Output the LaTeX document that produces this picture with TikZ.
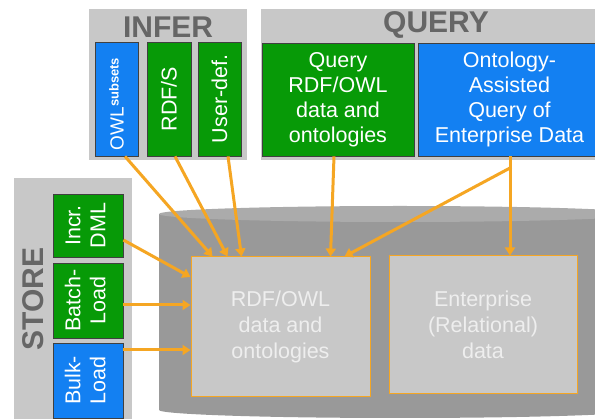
\documentclass[tikz,border=0pt]{standalone}
\usepackage{fontspec}
\setmainfont{Liberation Sans}
\usepackage{graphicx}
\usetikzlibrary{arrows.meta}
\definecolor{panel}{HTML}{C8C8C8}
\definecolor{ttl}{HTML}{666666}
\definecolor{gfill}{HTML}{079A07}
\definecolor{bfill}{HTML}{1380F2}
\definecolor{orng}{HTML}{F5A623}
\definecolor{cylbody}{HTML}{999999}
\definecolor{cyltop}{HTML}{ABABAB}
\definecolor{inner}{HTML}{C8C8C8}
\definecolor{innertxt}{HTML}{EEEEEE}
\begin{document}
\begin{tikzpicture}[x=1pt,y=-1pt,
  title/.style={text=ttl, font=\fontsize{30}{31}\selectfont\bfseries, inner sep=0},
  colbox/.style={draw=black!75, line width=0.8pt, inner sep=0, text=white,
    font=\fontsize{21.5}{25}\selectfont, align=center},
  gbox/.style={colbox, fill=gfill},
  bbox/.style={colbox, fill=bfill},
  databox/.style={fill=inner, draw=orng, line width=1pt, inner sep=0, text=innertxt,
    font=\fontsize{21.5}{26}\selectfont, align=center},
  arr/.style={draw=orng, line width=3pt, -{Triangle[length=8pt,width=10pt]}},
]
\useasboundingbox (0,0) rectangle (595,419);
\clip (0,0) rectangle (595,419);
\fill[white] (0,0) rectangle (595,419);

% panels
\fill[panel] (89,9) rectangle (247,160);
\fill[panel] (261,9) rectangle (600,160);
\fill[panel] (14,178) rectangle (132,425);
\node[title] (infert) at (168,27) {INFER};
\node[title] (queryt) at (436,25) {QUERY};
\node[title, rotate=90] (storet) at (33,299) {STORE};

% cylinder
\fill[cylbody] (159,214) rectangle (641,410);
\fill[cylbody] (400,410) ellipse [x radius=241pt, y radius=8pt];
\fill[cyltop] (400,214) ellipse [x radius=241pt, y radius=8pt];

% infer boxes
\node[bbox, minimum width=43pt, minimum height=114pt] (owl) at (116.5,99)
  {\rotatebox{90}{\fontsize{19}{19}\selectfont OWL\raisebox{5pt}{\fontsize{13}{13}\selectfont\bfseries subsets}\hspace{10pt}}};
\node[gbox, minimum width=44pt, minimum height=114pt] (rdfs) at (169,99)
  {\rotatebox{90}{RDF/S}};
\node[gbox, minimum width=43pt, minimum height=114pt] (userdef) at (219.5,99)
  {\rotatebox{90}{User-def.}};

% query boxes
\node[gbox, minimum width=152pt, minimum height=113pt] (qg) at (338,99.5)
  {Query\\RDF/OWL\\data and\\ontologies};
\node[bbox, minimum width=183pt, minimum height=113pt] (qb) at (509.5,99.5)
  {Ontology-\\Assisted\\Query of\\Enterprise Data};

% store boxes
\node[gbox, minimum width=70pt, minimum height=63pt] (incr) at (88,225.5)
  {\rotatebox{90}{\begin{tabular}{@{}c@{}}Incr.\\DML\end{tabular}}};
\node[gbox, minimum width=70pt, minimum height=75pt] (batch) at (88,300.5)
  {\rotatebox{90}{\begin{tabular}{@{}c@{}}Batch-\\Load\end{tabular}}};
\node[bbox, minimum width=70pt, minimum height=75pt] (bulk) at (88,380.5)
  {\rotatebox{90}{\begin{tabular}{@{}c@{}}Bulk-\\Load\end{tabular}}};

% data boxes
\node[databox, minimum width=179pt, minimum height=140pt] (rdf) at (280.5,327)
  {RDF/OWL\\data and\\ontologies};
\node[databox, minimum width=188pt, minimum height=138pt] (ent) at (483,325)
  {Enterprise\\(Relational)\\data};

% connectors
\draw[arr] ([xshift=8.5pt]owl.south) -- ([xshift=22pt]rdf.north west);
\draw[arr] ([xshift=6pt]rdfs.south) -- ([xshift=37pt]rdf.north west);
\draw[arr] ([xshift=8.5pt]userdef.south) -- ([xshift=51pt]rdf.north west);
\draw[arr] ([xshift=-4pt]qg.south) -- ([xshift=140pt]rdf.north west);
\coordinate (br) at (510,168);
\draw[arr] ([xshift=0.5pt]qb.south) -- ([xshift=27pt]ent.north);
\draw[arr, shorten <=-1.5pt] (br) -- ([xshift=154pt]rdf.north west);
\draw[arr] ([yshift=-14.5pt]incr.east) -- ([yshift=50pt]rdf.west);
\draw[arr] ([yshift=-4.5pt]batch.east) -- ([yshift=22pt]rdf.west);
\draw[arr] ([yshift=30.5pt]bulk.east) -- ([yshift=-23pt]rdf.west);
\end{tikzpicture}
\end{document}
